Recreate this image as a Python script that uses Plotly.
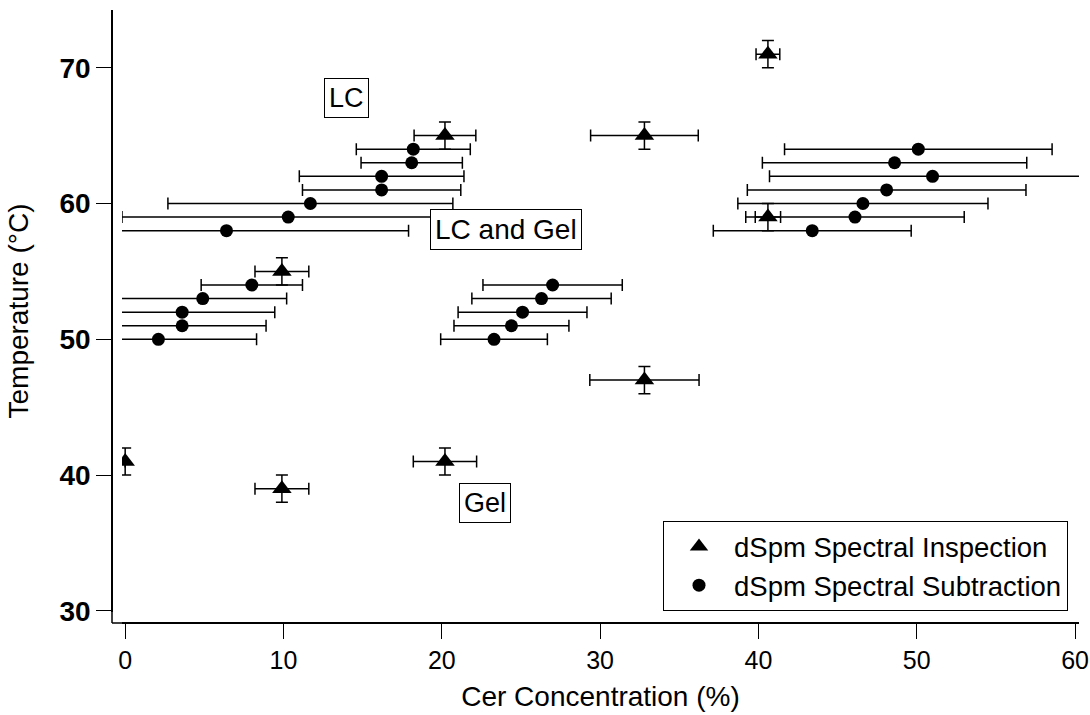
import plotly.graph_objects as go

# ---- data ----
tri_x    = [0.0, 9.9, 9.9, 20.2, 20.2, 32.8, 32.8, 40.6, 40.6]
tri_t    = [41, 39, 55, 41, 65, 47, 65, 59, 71]
tri_xerr = [0.0, 1.7, 1.7, 2.0, 1.95, 3.45, 3.4, 0.8, 0.75]
tri_terr = [1, 1, 1, 1, 1, 1, 1, 1, 1]

circ_x    = [2.1, 3.6, 3.6, 4.9, 8.0,
             6.4, 10.3, 11.7, 16.2, 16.2, 18.1, 18.2,
             23.3, 24.4, 25.1, 26.3, 27.0,
             43.4, 46.1, 46.6, 48.1, 51.0, 48.6, 50.1]
circ_t    = [50, 51, 52, 53, 54,
             58, 59, 60, 61, 62, 63, 64,
             50, 51, 52, 53, 54,
             58, 59, 60, 61, 62, 63, 64]
circ_xerr = [6.2, 5.3, 5.85, 5.3, 3.2,
             11.5, 10.5, 9.0, 5.0, 5.2, 3.2, 3.6,
             3.37, 3.63, 4.07, 4.4, 4.4,
             6.25, 6.9, 7.9, 8.8, 10.3, 8.35, 8.45]

series_names = ["dSpm Spectral Inspection", "dSpm Spectral Subtraction"]
region_labels = ["LC", "LC and Gel", "Gel"]
region_x = [14.0, 24.07, 22.74]
region_t = [67.77, 58.12, 37.95]

x_ticks = [0, 10, 20, 30, 40, 50, 60]
y_ticks = [30, 40, 50, 60, 70]

FONT = "Liberation Sans, Arial, Helvetica, sans-serif"

fig = go.Figure()
fig.add_trace(go.Scatter(
    x=tri_x, y=tri_t, mode="markers", name=series_names[0],
    marker=dict(symbol="triangle-up", size=17, color="black"),
    error_x=dict(type="data", array=tri_xerr, color="black", thickness=1.5, width=6),
    error_y=dict(type="data", array=tri_terr, color="black", thickness=1.5, width=6),
))
fig.add_trace(go.Scatter(
    x=circ_x, y=circ_t, mode="markers", name=series_names[1],
    marker=dict(symbol="circle", size=13, color="black"),
    error_x=dict(type="data", array=circ_xerr, color="black", thickness=1.5, width=6),
))

for lab, xx, tt, sz in zip(region_labels, region_x, region_t, [27, 28, 27]):
    fig.add_annotation(x=xx, y=tt, text=lab, showarrow=False,
                       font=dict(family=FONT, size=sz, color="black"),
                       bordercolor="black", borderwidth=1, borderpad=4,
                       bgcolor="white")

# page body margin is removed in post_script, so layout is in screen pixels
W, H = 1090, 715
SX0, SX1, SY0, SY1 = 112, 1079, 10, 623
L, R, T, B = SX0, W - SX1, SY0, H - SY1
pw = SX1 - SX0
ph = SY1 - SY0
xdom0 = (122 - SX0) / pw
ydom0 = (SY1 - 612) / ph

fig.update_layout(
    width=W, height=H,
    margin=dict(l=L, r=R, t=T, b=B, autoexpand=False),
    paper_bgcolor="white", plot_bgcolor="white",
    font=dict(family=FONT, color="black"),
    showlegend=True,
    legend=dict(x=(663 - SX0) / pw, xanchor="left", y=(SY1 - 521) / ph, yanchor="top",
                bordercolor="black", borderwidth=1, bgcolor="white",
                font=dict(family=FONT, size=27.5, color="black"),
                itemwidth=60, tracegroupgap=0),
    xaxis=dict(range=[-0.2, 60.25], domain=[xdom0, 1], anchor="free", position=0,
               tickvals=x_ticks, ticktext=[str(v) for v in x_ticks],
               ticks="outside", ticklen=15, tickwidth=1, tickcolor="black",
               showline=True, linecolor="black", linewidth=1.5,
               showgrid=False, zeroline=False,
               tickfont=dict(family=FONT, size=25, color="black"),
               title=dict(text="Cer Concentration (%)", standoff=13,
                          font=dict(family=FONT, size=28, color="black"))),
    yaxis=dict(range=[29.92, 74.25], domain=[ydom0, 1], anchor="free", position=0,
               tickvals=y_ticks, ticktext=["<b>%d</b>" % v for v in y_ticks],
               ticks="outside", ticklen=15, tickwidth=1, tickcolor="black",
               showline=True, linecolor="black", linewidth=1.5,
               showgrid=False, zeroline=False,
               tickfont=dict(family=FONT, size=28, color="black"),
               title=dict(text="Temperature (°C)", standoff=22,
                          font=dict(family=FONT, size=28, color="black"))),
    shapes=[
        dict(type="line", xref="paper", yref="paper", x0=0, y0=0, x1=xdom0, y1=0,
             line=dict(color="black", width=1.5)),
        dict(type="line", xref="paper", yref="paper", x0=0, y0=0, x1=0, y1=ydom0,
             line=dict(color="black", width=1.5)),
    ],
)

fig.write_html(
    "out.html",
    config={"displayModeBar": False},
    post_script="document.body.style.margin='0';document.body.style.overflow='hidden';",
)
